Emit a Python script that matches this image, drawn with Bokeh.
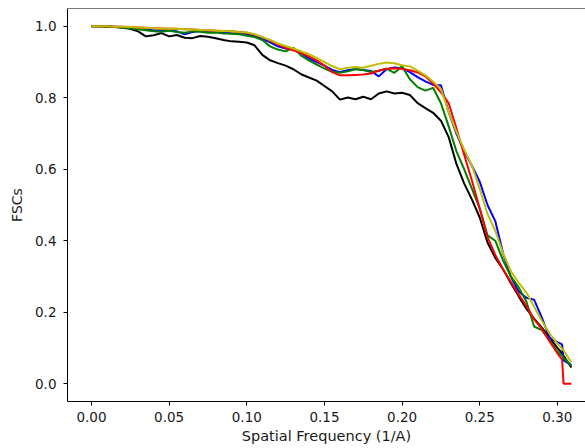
from bokeh.plotting import figure
from bokeh.models import Span, FixedTicker
from bokeh.embed import file_html
from bokeh.resources import INLINE

freq = [0.000, 0.005, 0.010, 0.015, 0.020, 0.025, 0.030, 0.035, 0.040, 0.045,
        0.050, 0.055, 0.060, 0.065, 0.070, 0.075, 0.080, 0.085, 0.090, 0.095,
        0.100, 0.105, 0.110, 0.115, 0.120, 0.125, 0.130, 0.135, 0.140, 0.145,
        0.150, 0.155, 0.160, 0.165, 0.170, 0.175, 0.180, 0.185, 0.190, 0.195,
        0.200, 0.205, 0.210, 0.215, 0.220, 0.225, 0.230, 0.235, 0.240, 0.245,
        0.250, 0.255, 0.260, 0.265, 0.270, 0.275, 0.280, 0.285, 0.290, 0.295,
        0.300, 0.303, 0.304, 0.309]

fsc_black = [1.000, 1.000, 0.999, 0.998, 0.996, 0.993, 0.986, 0.972, 0.975, 0.981,
             0.972, 0.976, 0.968, 0.967, 0.973, 0.971, 0.967, 0.962, 0.958, 0.957,
             0.955, 0.947, 0.920, 0.905, 0.897, 0.890, 0.880, 0.866, 0.857, 0.848,
             0.833, 0.818, 0.795, 0.801, 0.796, 0.803, 0.796, 0.812, 0.818, 0.812,
             0.814, 0.808, 0.785, 0.771, 0.758, 0.736, 0.690, 0.615, 0.560, 0.515,
             0.465, 0.395, 0.352, 0.320, 0.282, 0.245, 0.210, 0.182, 0.157, 0.128,
             0.100, 0.085, 0.078, 0.045]

fsc_blue = [1.000, 1.000, 1.000, 0.999, 0.998, 0.996, 0.994, 0.991, 0.989, 0.988,
            0.989, 0.986, 0.978, 0.984, 0.987, 0.985, 0.985, 0.983, 0.981, 0.980,
            0.978, 0.974, 0.966, 0.955, 0.944, 0.938, 0.935, 0.925, 0.910, 0.900,
            0.890, 0.878, 0.872, 0.877, 0.881, 0.878, 0.875, 0.860, 0.880, 0.885,
            0.883, 0.872, 0.858, 0.846, 0.836, 0.835, 0.760, 0.700, 0.650, 0.610,
            0.565, 0.500, 0.455, 0.365, 0.300, 0.258, 0.240, 0.235, 0.185, 0.128,
            0.116, 0.110, 0.065, 0.052]

fsc_green = [1.000, 1.000, 0.999, 0.998, 0.997, 0.995, 0.992, 0.989, 0.986, 0.985,
             0.988, 0.984, 0.982, 0.986, 0.985, 0.982, 0.983, 0.980, 0.979, 0.978,
             0.974, 0.970, 0.962, 0.944, 0.935, 0.930, 0.940, 0.918, 0.905, 0.893,
             0.882, 0.873, 0.870, 0.874, 0.880, 0.878, 0.872, 0.876, 0.882, 0.870,
             0.888, 0.852, 0.830, 0.820, 0.828, 0.785, 0.720, 0.650, 0.600, 0.545,
             0.490, 0.415, 0.400, 0.345, 0.300, 0.270, 0.230, 0.160, 0.150, 0.120,
             0.090, 0.078, 0.072, 0.050]

fsc_red = [1.000, 1.000, 1.000, 0.999, 0.999, 0.998, 0.997, 0.996, 0.995, 0.994,
           0.993, 0.993, 0.992, 0.991, 0.990, 0.989, 0.988, 0.987, 0.986, 0.984,
           0.982, 0.977, 0.970, 0.960, 0.950, 0.940, 0.933, 0.925, 0.916, 0.905,
           0.890, 0.872, 0.863, 0.863, 0.864, 0.865, 0.868, 0.876, 0.881, 0.883,
           0.881, 0.877, 0.871, 0.860, 0.840, 0.815, 0.785, 0.715, 0.640, 0.568,
           0.490, 0.410, 0.360, 0.320, 0.285, 0.250, 0.218, 0.180, 0.153, 0.118,
           0.085, 0.068, 0.000, 0.000]

fsc_yellow = [1.000, 1.000, 1.000, 0.999, 0.999, 0.998, 0.997, 0.996, 0.995, 0.994,
              0.993, 0.993, 0.992, 0.991, 0.990, 0.989, 0.988, 0.987, 0.986, 0.984,
              0.983, 0.978, 0.970, 0.962, 0.952, 0.945, 0.938, 0.930, 0.922, 0.912,
              0.900, 0.889, 0.880, 0.884, 0.886, 0.884, 0.890, 0.895, 0.899, 0.897,
              0.891, 0.888, 0.876, 0.863, 0.845, 0.825, 0.760, 0.705, 0.655, 0.610,
              0.545, 0.475, 0.428, 0.365, 0.315, 0.283, 0.255, 0.215, 0.176, 0.140,
              0.112, 0.098, 0.093, 0.060]

x_ticks = [0.00, 0.05, 0.10, 0.15, 0.20, 0.25, 0.30]
y_ticks = [0.0, 0.2, 0.4, 0.6, 0.8, 1.0]

FONT = "DejaVu Sans"

p = figure(width=585, height=448, output_backend="svg", toolbar_location=None,
           x_range=(-0.01545, 0.3181), y_range=(-0.05, 1.05), title=None,
           min_border_left=67, min_border_right=0, min_border_top=8,
           min_border_bottom=47)

p.background_fill_color = "white"
p.border_fill_color = "white"
p.outline_line_color = None
p.xgrid.visible = False
p.ygrid.visible = False

series = [(fsc_black, "#000000"), (fsc_blue, "#0000ff"), (fsc_green, "#008000"),
          (fsc_red, "#ff0000"), (fsc_yellow, "#bfbf00")]
for ys, col in series:
    p.line(freq, ys, line_color=col, line_width=2)

top = Span(location=1.05, dimension="width", line_color="#000000", line_width=1)
p.add_layout(top)

for ax in (p.xaxis[0], p.yaxis[0]):
    ax.axis_line_color = "#000000"
    ax.axis_line_width = 1
    ax.major_tick_line_color = "#000000"
    ax.major_tick_out = 4
    ax.major_tick_in = 0
    ax.minor_tick_line_color = None
    ax.major_label_text_font = FONT
    ax.major_label_text_font_size = "13.5px"
    ax.major_label_text_color = "#1a1a1a"
    ax.axis_label_text_font = FONT
    ax.axis_label_text_font_style = "normal"
    ax.axis_label_text_color = "#1a1a1a"

p.xaxis.axis_label_text_font_size = "14.5px"
p.yaxis.axis_label_text_font_size = "14px"
p.xaxis.ticker = FixedTicker(ticks=x_ticks)
p.yaxis.ticker = FixedTicker(ticks=y_ticks)
p.xaxis.major_label_overrides = {t: f"{t:.2f}" for t in x_ticks}
p.yaxis.major_label_overrides = {t: f"{t:.1f}" for t in y_ticks}
p.xaxis.axis_label = "Spatial Frequency (1/A)"
p.yaxis.axis_label = "FSCs"
p.xaxis.major_label_standoff = 6
p.yaxis.major_label_standoff = 7
p.xaxis.axis_label_standoff = 3
p.yaxis.axis_label_standoff = 7

open("out.html", "w").write(file_html(p, INLINE))
